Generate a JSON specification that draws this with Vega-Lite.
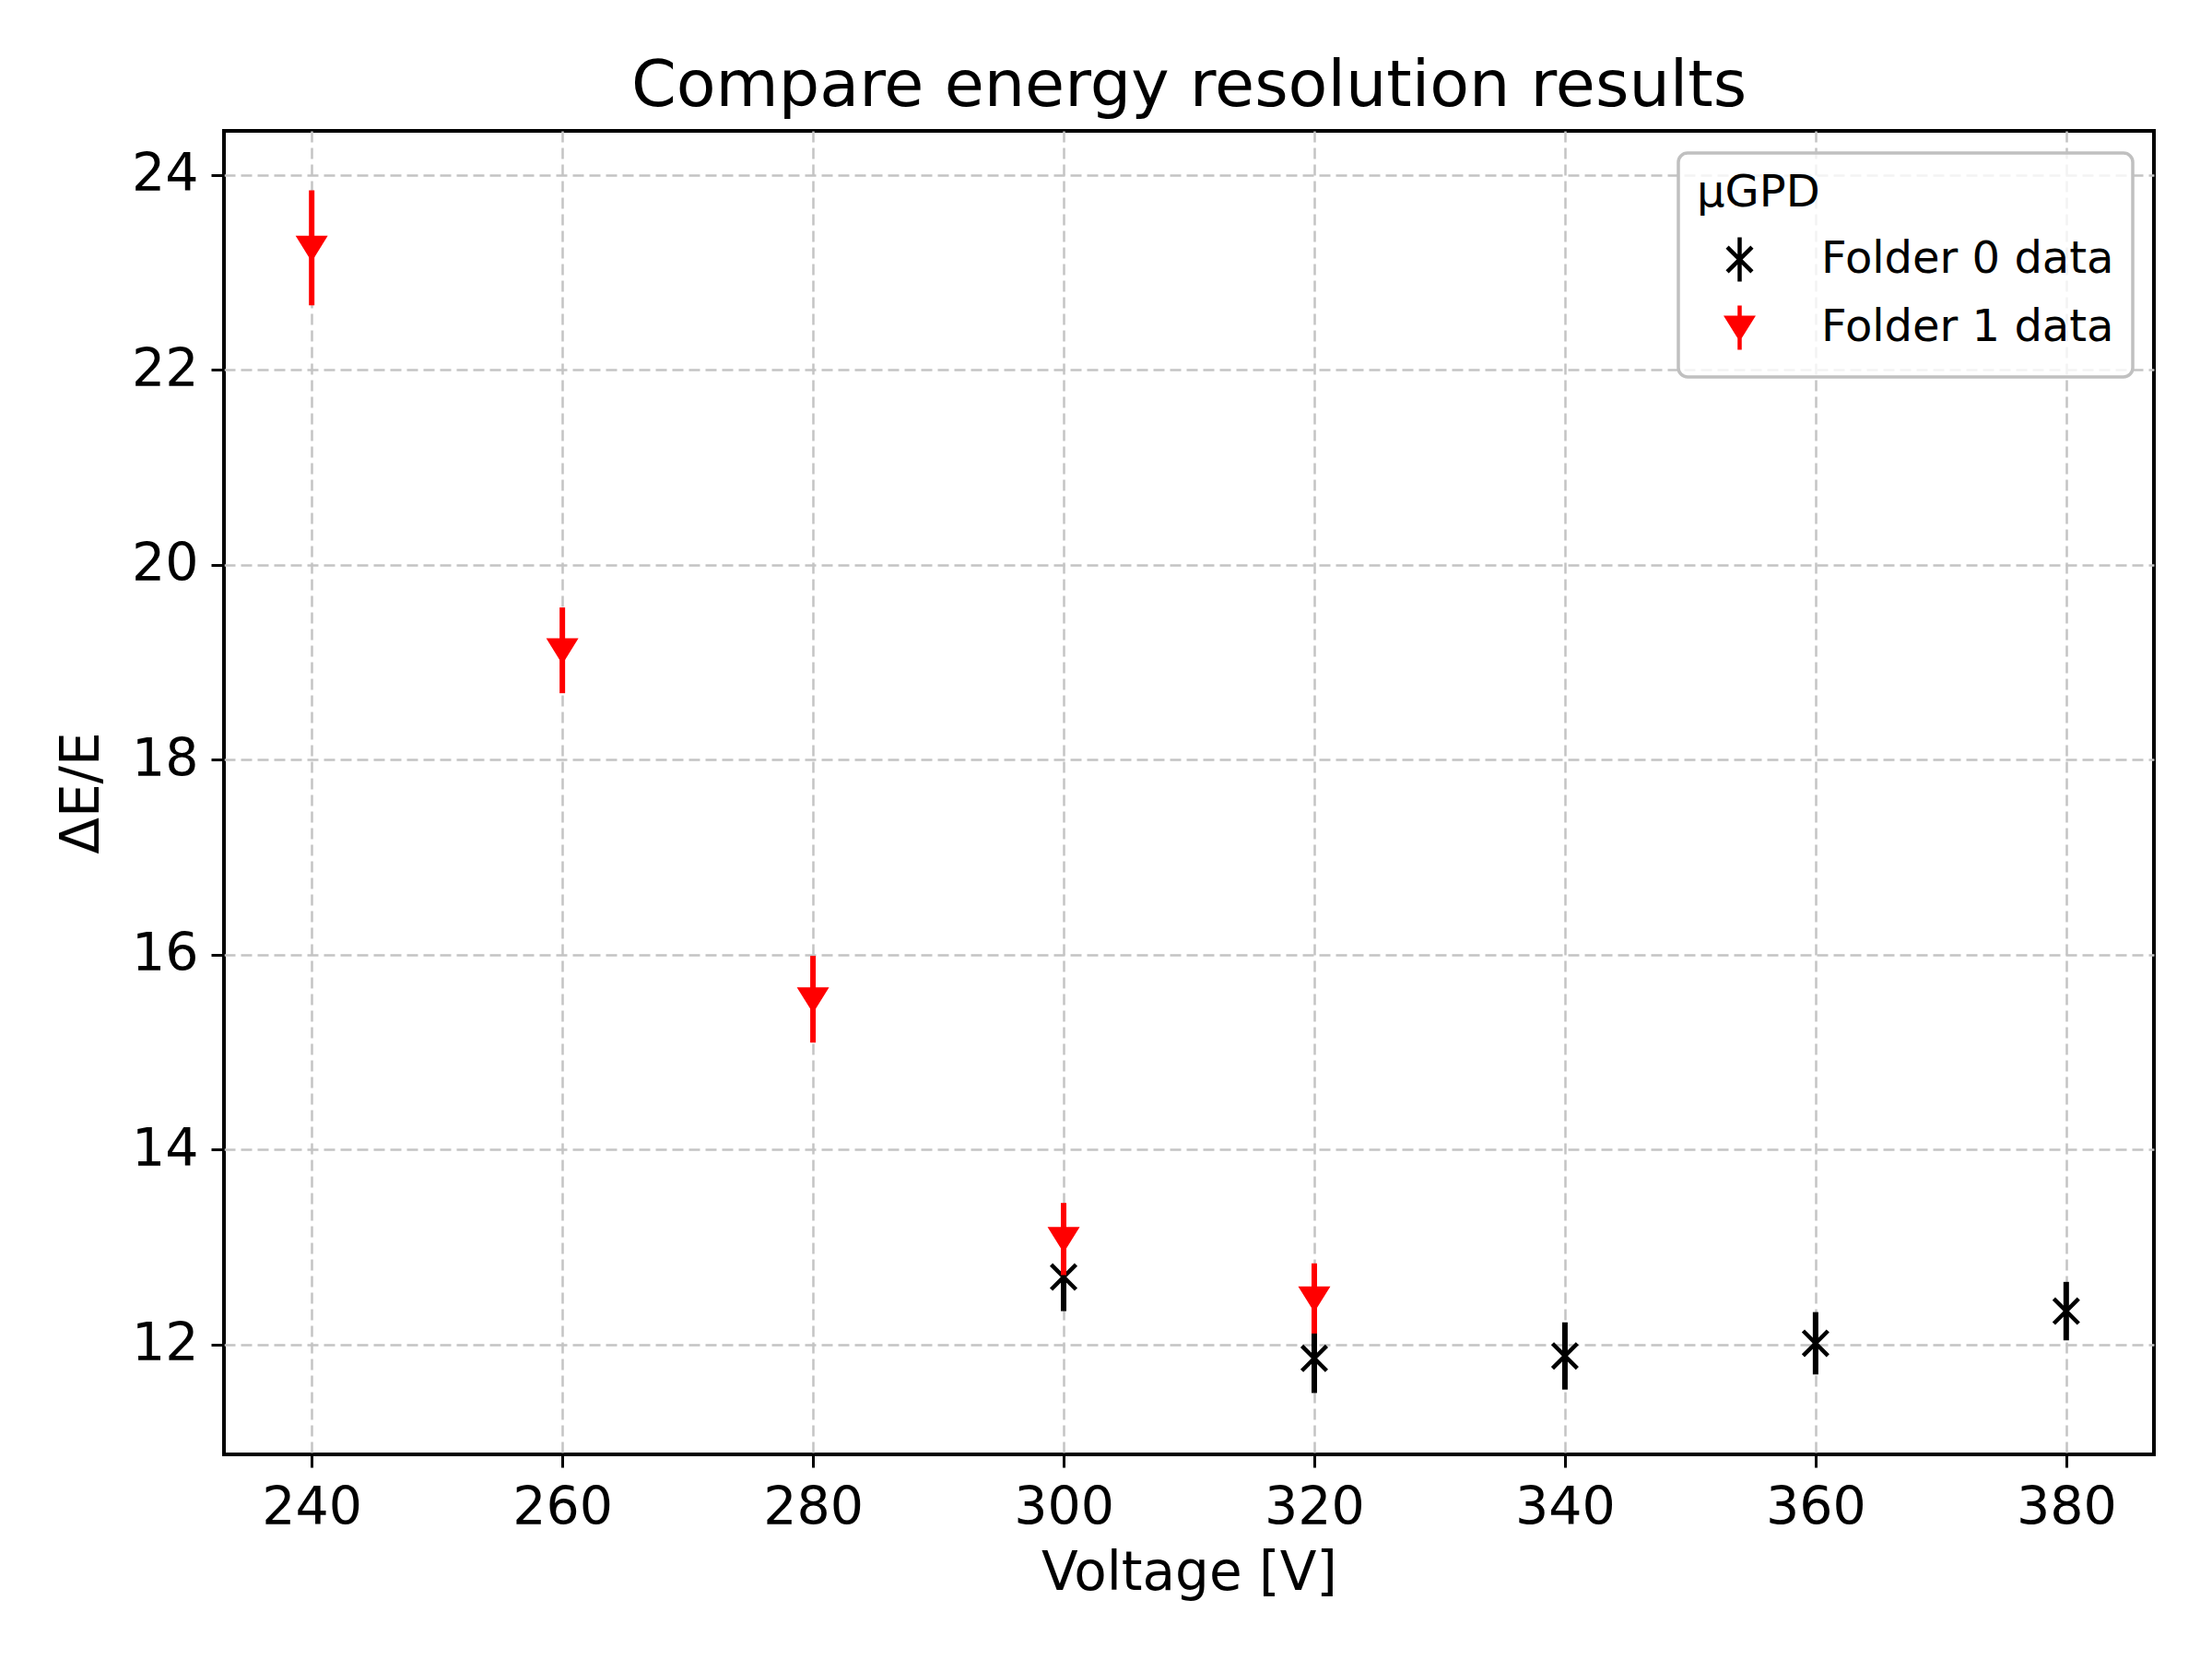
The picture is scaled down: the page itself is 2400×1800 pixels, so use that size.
{
  "$schema": "https://vega.github.io/schema/vega-lite/v6.json",
  "autosize": {"type": "none"},
  "width": 2094,
  "height": 1436,
  "padding": {"left": 243, "top": 142, "right": 63, "bottom": 222},
  "background": "white",
  "config": {
    "font": "DejaVu Sans",
    "view": {"stroke": "black", "strokeWidth": 4},
    "axis": {
      "grid": true,
      "gridColor": "#c4c4c4",
      "gridDash": [12, 6],
      "gridWidth": 2.5,
      "domain": false,
      "tickColor": "black",
      "tickWidth": 3,
      "tickSize": 14,
      "labelFontSize": 57,
      "labelColor": "black",
      "labelFont": "DejaVu Sans",
      "titleFontSize": 58,
      "titleFontWeight": "normal",
      "titleColor": "black",
      "titleFont": "DejaVu Sans",
      "labelFlush": false,
      "labelOverlap": false
    },
    "legend": {
      "titleFontSize": 48,
      "labelFontSize": 48,
      "titleFont": "DejaVu Sans",
      "labelFont": "DejaVu Sans",
      "titleFontWeight": "normal",
      "titleColor": "black",
      "labelColor": "black",
      "labelLimit": 1000,
      "strokeColor": "#c0c0c0",
      "strokeWidth": 3.5,
      "fillColor": "rgba(255,255,255,0.8)",
      "cornerRadius": 10,
      "padding": 20,
      "symbolSize": 2304,
      "symbolStrokeWidth": 4.5,
      "symbolOpacity": 1,
      "rowPadding": 7,
      "titlePadding": 21,
      "symbolOffset": 20,
      "labelOffset": 62
    }
  },
  "title": {
    "text": "Compare energy resolution results",
    "fontSize": 70,
    "fontWeight": "normal",
    "color": "black",
    "font": "DejaVu Sans",
    "anchor": "middle",
    "offset": 12
  },
  "data": {
    "values": [
      {"series": "Folder 0 data", "voltage": 300, "res": 12.69, "err": 0.35},
      {"series": "Folder 0 data", "voltage": 320, "res": 11.855, "err": 0.355},
      {"series": "Folder 0 data", "voltage": 340, "res": 11.88, "err": 0.345},
      {"series": "Folder 0 data", "voltage": 360, "res": 12.01, "err": 0.32},
      {"series": "Folder 0 data", "voltage": 380, "res": 12.34, "err": 0.30},
      {"series": "Folder 1 data", "voltage": 240, "res": 23.25, "err": 0.59},
      {"series": "Folder 1 data", "voltage": 260, "res": 19.12, "err": 0.44},
      {"series": "Folder 1 data", "voltage": 280, "res": 15.54, "err": 0.445},
      {"series": "Folder 1 data", "voltage": 300, "res": 13.08, "err": 0.37},
      {"series": "Folder 1 data", "voltage": 320, "res": 12.47, "err": 0.36}
    ]
  },
  "encoding": {
    "x": {
      "field": "voltage",
      "type": "quantitative",
      "scale": {"domain": [233, 387], "nice": false, "zero": false},
      "axis": {"title": "Voltage [V]", "values": [240, 260, 280, 300, 320, 340, 360, 380], "labelPadding": 16, "titlePadding": 14}
    },
    "y": {
      "field": "res",
      "type": "quantitative",
      "scale": {"domain": [10.87, 24.45], "nice": false, "zero": false},
      "axis": {"title": "ΔE/E", "values": [12, 14, 16, 18, 20, 22, 24], "labelPadding": 14, "titlePadding": 24}
    }
  },
  "layer": [
    {
      "transform": [{"filter": "datum.series === 'Folder 0 data'"}],
      "mark": {"type": "errorbar", "color": "black", "thickness": 6, "ticks": false},
      "encoding": {"yError": {"field": "err"}}
    },
    {
      "mark": {"type": "point", "filled": true, "strokeWidth": 4.5, "size": 2304, "opacity": 1, "strokeJoin": "miter"},
      "encoding": {
        "fill": {
          "field": "series",
          "type": "nominal",
          "scale": {"domain": ["Folder 0 data", "Folder 1 data"], "range": ["transparent", "red"]},
          "legend": {"title": "μGPD", "orient": "none", "legendX": 1578, "legendY": 24}
        },
        "stroke": {
          "field": "series",
          "type": "nominal",
          "scale": {"domain": ["Folder 0 data", "Folder 1 data"], "range": ["black", "red"]},
          "legend": {"title": "μGPD", "orient": "none", "legendX": 1578, "legendY": 24}
        },
        "shape": {
          "field": "series",
          "type": "nominal",
          "scale": {"domain": ["Folder 0 data", "Folder 1 data"], "range": ["M-0.56,-0.56L0.56,0.56M-0.56,0.56L0.56,-0.56M0,-1L0,1", "M-0.56,-0.45L0.56,-0.45L0,0.45Z M0,-1L0,1"]},
          "legend": {"title": "μGPD", "orient": "none", "legendX": 1578, "legendY": 24}
        }
      }
    },
    {
      "transform": [{"filter": "datum.series === 'Folder 1 data'"}],
      "mark": {"type": "errorbar", "color": "red", "thickness": 6, "ticks": false},
      "encoding": {"yError": {"field": "err"}}
    }
  ]
}
